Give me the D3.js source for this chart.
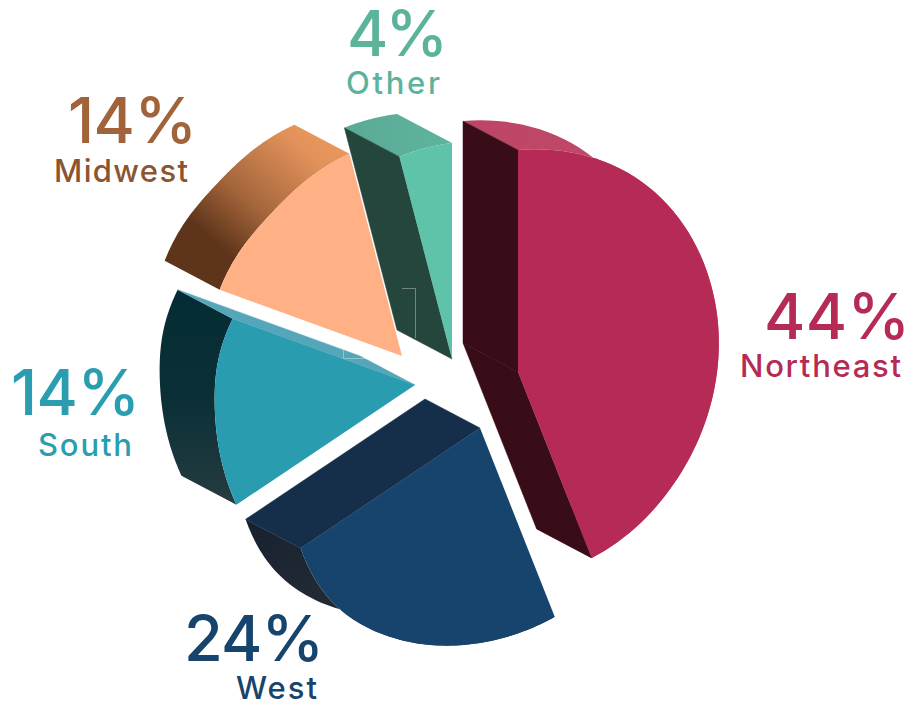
<!DOCTYPE html>
<html>
<head>
<meta charset="utf-8">
<script src="https://cdn.jsdelivr.net/npm/d3@7"></script>
<style>
html,body{margin:0;padding:0;background:#fff;}
svg{display:block;}
text{font-family:Inter,"Open Sans",sans-serif;}
.pct{font-size:63px;font-weight:500;}
.name{font-size:31px;font-weight:500;}
</style>
</head>
<body>
<svg id="chart" width="909" height="707"></svg>
<script>
// Data
const categories = ["Northeast", "West", "South", "Midwest", "Other"];
const percents = [44, 24, 14, 14, 4];
// Share of the turn each face occupies as drawn (the source's perspective distorts the wedges)
const drawnShares = [44, 21.6, 14.95, 15.4, 4.05];
// Face radius sampled at even steps across each wedge
const northeastRadii = [222, 232, 213, 195, 189, 200];
const westRadii = [203, 211, 221, 229, 231, 216];
const southRadii = [215, 207, 201, 199, 194];
const midwestRadii = [194, 193, 192, 200, 209];
const otherRadii = [209, 216];
const radii = [northeastRadii, westRadii, southRadii, midwestRadii, otherRadii];

// Layout and style
const apexX = [518, 480, 415, 402, 452];
const apexY = [372, 428, 385, 356, 359];
const depth = [-55, -29];
const faceColors = ["#b52b55", "#17446c", "#2a9cb0", "#ffb084", "#5ec3a9"];
const wallColors = ["#380d18", "#152f4b", "#55a6b8", "#5e351b", "#24463c"];
const bandStops = [
  [[0, "#bd4465"], [1, "#c14c6c"]],
  [[0, "#18222f"], [1, "#2c333b"]],
  [[0, "#052c34"], [.5, "#0a2f37"], [1, "#263c40"]],
  [[0, "#ee9c5c"], [.2, "#e2925a"], [.5, "#a5663b"], [.72, "#5e351b"], [1, "#5e351b"]],
  [[0, "#5aab96"], [1, "#5fb39c"]]
];
const bandGradientAxis = [[0, 0, 1, 0], [0, 0, 1, 1], [.5, 0, .5, 1], [1, 0, 0, 1], [0, 0, 1, 0]];
const labelColors = [
  ["#b52b55", "#b52b55"], ["#17446c", "#17446c"], ["#2a9db0", "#2a9db0"],
  ["#a0633a", "#8b5530"], ["#5cb39b", "#5cb39b"]
];
// left edge, baseline, advance width
const pctBox = [[764, 339, 146], [184, 661, 140], [11, 415, 129], [68, 143, 129], [347, 56, 101]];
const nameBox = [[740, 377, 161], [236, 699, 81], [38, 456, 94], [54, 182, 134], [346, 94, 94]];
const cropMarks = [
  [[402, 288.5], [415.5, 288.5], [415.5, 338]],
  [[343.5, 347], [343.5, 358.5], [368, 358.5]]
];

const svg = d3.select("#chart");
const defs = svg.append("defs");
const pie = d3.pie().sort(null);
const arcs = pie(drawnShares);
const line = d3.line();
const closed = d3.line().curve(d3.curveLinearClosed);

function outerPoints(i) {
  const a = arcs[i], rad = d3.interpolateBasis(radii[i]);
  return d3.range(0, 73).map(k => {
    const u = k / 72, ang = a.startAngle + (a.endAngle - a.startAngle) * u;
    const [x, y] = d3.pointRadial(ang, rad(u));
    return [apexX[i] + x, apexY[i] + y];
  });
}
const shift = p => [p[0] + depth[0], p[1] + depth[1]];

categories.forEach((name, i) => {
  const a = arcs[i];
  const pts = outerPoints(i);
  const apex = [apexX[i], apexY[i]];
  const g = svg.append("g").attr("class", "slice").attr("data-name", name);

  const ax = bandGradientAxis[i];
  const grad = defs.append("linearGradient").attr("id", "band" + i)
    .attr("x1", ax[0]).attr("y1", ax[1]).attr("x2", ax[2]).attr("y2", ax[3]);
  bandStops[i].forEach(s => grad.append("stop").attr("offset", s[0]).attr("stop-color", s[1]));

  // outer rim between the back arc and the front arc
  g.append("path")
    .attr("d", closed(pts.map(shift).concat(pts.slice().reverse())))
    .attr("fill", "url(#band" + i + ")");

  // radial walls, only when they face the viewer
  const startNormal = [-Math.cos(a.startAngle), -Math.sin(a.startAngle)];
  const endNormal = [Math.cos(a.endAngle), Math.sin(a.endAngle)];
  const faces = n => n[0] * depth[0] + n[1] * depth[1] > 0;
  const wall = rimPt => g.append("path")
    .attr("d", closed([apex, rimPt, shift(rimPt), shift(apex)]))
    .attr("fill", wallColors[i])
    .attr("stroke", wallColors[i])
    .attr("stroke-width", .5);
  if (faces(startNormal)) wall(pts[0]);
  if (faces(endNormal)) wall(pts[pts.length - 1]);

  // front face
  g.append("path")
    .attr("d", closed([apex].concat(pts)))
    .attr("fill", faceColors[i]);
});

// faint crop marks present in the source
svg.append("g").selectAll("path").data(cropMarks).join("path")
  .attr("d", d => line(d))
  .attr("fill", "none")
  .attr("stroke", "#ffffff")
  .attr("stroke-opacity", .35)
  .attr("stroke-width", 1);

// labels
categories.forEach((name, i) => {
  svg.append("text").attr("class", "pct")
    .attr("x", pctBox[i][0]).attr("y", pctBox[i][1])
    .attr("textLength", pctBox[i][2])
    .attr("fill", labelColors[i][0])
    .text(percents[i] + "%");
  svg.append("text").attr("class", "name")
    .attr("x", nameBox[i][0]).attr("y", nameBox[i][1])
    .attr("textLength", nameBox[i][2])
    .attr("fill", labelColors[i][1])
    .text(name);
});
</script>
</body>
</html>
